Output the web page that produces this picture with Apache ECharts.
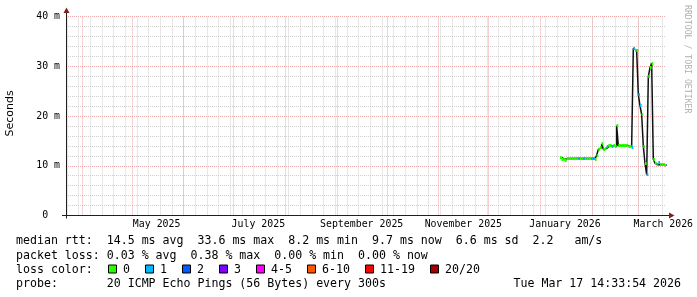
<!DOCTYPE html>
<html><head><meta charset="utf-8">
<script src="https://cdn.jsdelivr.net/npm/echarts@6/dist/echarts.min.js"></script>
<style>html,body{margin:0;padding:0;background:#fff}#c{width:697px;height:297px}</style>
</head><body><div id="c"></div>
<script>
// ---------- data ----------
const endTime = '2026-03-17 14:33:54';
const rangeDays = 360;
const firstBinEnd = '2026-01-14';           // end of first daily bin
const medianMs = [
  11.6, 11.2, 11.3, 11.05, 11.4, 11.45, 11.4, 11.45, 11.45, 11.4,
  11.45, 11.45, 11.4, 11.45, 11.45, 11.45, 11.4, 11.45, 11.45, 11.4,
  11.4, 11.2, 12.1, 13.3, 13.7, 14.4, 13.3, 13.5, 13.9, 14.0,
  14.0, 13.9, 14.0, 13.9, 18.1, 14.0, 14.0, 14.0, 14.1, 14.0,
  14.0, 13.9, 13.9, 13.6, 33.6, 33.2, 33.2, 24.3, 22.1, 20.3,
  13.9, 10.5, 8.2, 27.9, 29.7, 30.6, 11.3, 10.5, 10.2, 10.6,
  10.2, 10.2, 10.2, 10.1
];
const lossCount = [
  0, 0, 0, 0, 0, 0, 0, 0, 0, 0,
  0, 1, 0, 0, 1, 0, 0, 0, 0, 1,
  1, 0, 0, 0, 0, 0, 0, 0, 1, 0,
  0, 1, 0, 0, 0, 0, 0, 0, 0, 0,
  0, 0, 0, 1, 1, 0, 0, 1, 1, 0,
  0, 0, 1, 0, 0, 0, 0, 0, 1, 1,
  0, 0, 0, 0
];
const monthStarts = ['2025-04-01','2025-05-01','2025-06-01','2025-07-01','2025-08-01','2025-09-01',
  '2025-10-01','2025-11-01','2025-12-01','2026-01-01','2026-02-01','2026-03-01'];
const firstWeekLine = '2025-03-23';
const xLabelDates = ['2025-05-16','2025-07-16','2025-09-16','2025-11-16','2026-01-16','2026-03-16'];
const xLabelTexts = ['May 2025','July 2025','September 2025','November 2025','January 2026','March 2026'];
const yTicksMs = [0, 10, 20, 30, 40];
const yTickLabels = ['0', '10 m', '20 m', '30 m', '40 m'];
const yMinorStep = 2;
const rttLine = 'median rtt:  14.5 ms avg  33.6 ms max  8.2 ms min  9.7 ms now  6.6 ms sd  2.2   am/s';
const lossLine = 'packet loss: 0.03 % avg  0.38 % max  0.00 % min  0.00 % now';
const lossLabels = ['0', '1', '2', '3', '4-5', '6-10', '11-19', '20/20'];
const lossColors = ['#26ff00', '#00b8ff', '#0059ff', '#7e00ff', '#ff00ff', '#ff5500', '#ff0000', '#a00000'];
const probeLine = 'probe:       20 ICMP Echo Pings (56 Bytes) every 300s';
const stampText = 'Tue Mar 17 14:33:54 2026';
const yName = 'Seconds';
const watermark = 'RRDTOOL / TOBI OETIKER';

// ---------- helpers ----------
const DAY = 86400000;
function toMs(s) {
  const m = s.match(/(\d+)-(\d+)-(\d+)(?:[ T](\d+):(\d+):(\d+))?/);
  return new Date(+m[1], +m[2] - 1, +m[3], +(m[4] || 0), +(m[5] || 0), +(m[6] || 0)).getTime();
}
const tEnd = toMs(endTime);
const tStart = tEnd - rangeDays * DAY;
const fbd = new Date(toMs(firstBinEnd));
function binEnd(i) { return new Date(fbd.getFullYear(), fbd.getMonth(), fbd.getDate() + i).getTime(); }

const lineData = medianMs.map((v, i) => [binEnd(i), v]);
const bandData = medianMs.map((v, i) => [binEnd(i), v, lossCount[i]]);

const majorX = monthStarts.map(toMs);
const minorX = [];
{
  const w = new Date(toMs(firstWeekLine));
  for (let k = 0; ; k++) {
    const t = new Date(w.getFullYear(), w.getMonth(), w.getDate() + 7 * k).getTime();
    if (t > tEnd) break;
    if (t > tStart) minorX.push(t);
  }
}
const labelMs = xLabelDates.map(toMs);
const labelMap = {};
labelMs.forEach((t, i) => { labelMap[t] = xLabelTexts[i]; });

function lossColorOf(n) {
  if (n <= 0) return lossColors[0];
  if (n === 1) return lossColors[1];
  if (n === 2) return lossColors[2];
  if (n === 3) return lossColors[3];
  if (n <= 5) return lossColors[4];
  if (n <= 10) return lossColors[5];
  if (n <= 19) return lossColors[6];
  return lossColors[7];
}

const MONO = '"DejaVu Sans Mono", monospace';
const GRID_C = '#cfcfcf';
const MGRID_C = '#f0a8a8';
const ARROW_C = '#801f1f';
const AXIS_C = '#1f1f1f';

const G = { left: 66, top: 16.5, width: 600, height: 199 };

function vGridSeries(times, color, z) {
  return {
    type: 'custom', xAxisIndex: 0, yAxisIndex: 1, z: z, silent: true,
    data: times.map(t => [t, 0]),
    renderItem: function (params, api) {
      const p = api.coord([api.value(0), 0]);
      const cs = params.coordSys;
      const x = Math.round(p[0]) + 0.5;
      return { type: 'line', shape: { x1: x, y1: cs.y + cs.height, x2: x, y2: cs.y },
        style: { stroke: color, lineWidth: 1, lineDash: [1, 1] } };
    }
  };
}

// ---------- graphics (text & decorations) ----------
const graphics = [];
const CW = 7.0;
graphics.push({ type: 'text', x: 10.5, y: 113.5, rotation: Math.PI / 2, z: 20,
  style: { text: yName, x: 0, y: 0, align: 'center', verticalAlign: 'middle', font: '11px "DejaVu Sans"', fill: '#000' } });
graphics.push({ type: 'text', x: 687.5, y: 5, rotation: -Math.PI / 2, z: 20,
  style: { text: watermark, x: 0, y: 0, align: 'left', verticalAlign: 'middle', font: '8.2px ' + MONO, fill: '#b0b0b0' } });
graphics.push({ type: 'line', z: 30, shape: { x1: 66.5, y1: 218.5, x2: 66.5, y2: 12 }, style: { stroke: AXIS_C, lineWidth: 1 } });
graphics.push({ type: 'line', z: 30, shape: { x1: 62, y1: 215.5, x2: 670, y2: 215.5 }, style: { stroke: AXIS_C, lineWidth: 1 } });
graphics.push({ type: 'polygon', z: 31, shape: { points: [[66.5, 7.5], [63.5, 13], [69.5, 13]] }, style: { fill: ARROW_C } });
graphics.push({ type: 'polygon', z: 31, shape: { points: [[674.5, 215.5], [669, 212.5], [669, 218.5]] }, style: { fill: ARROW_C } });
const rowY = [241, 255.5, 269.5, 284];
const LF = '11.6px ' + MONO;
graphics.push({ type: 'text', x: 16, y: rowY[0], style: { text: rttLine, font: LF, fill: '#000', verticalAlign: 'middle' } });
graphics.push({ type: 'text', x: 16, y: rowY[1], style: { text: lossLine, font: LF, fill: '#000', verticalAlign: 'middle' } });
graphics.push({ type: 'text', x: 16, y: rowY[2], style: { text: 'loss color:', font: LF, fill: '#000', verticalAlign: 'middle' } });
{
  let x = 108;
  lossLabels.forEach((lab, i) => {
    graphics.push({ type: 'rect', shape: { x: x + 0.5, y: rowY[2] - 4.5, width: 8, height: 8 },
      style: { fill: lossColors[i], stroke: '#000', lineWidth: 1 } });
    graphics.push({ type: 'text', x: x + 15, y: rowY[2], style: { text: lab, font: LF, fill: '#000', verticalAlign: 'middle' } });
    x += 30 + lab.length * CW;
  });
}
graphics.push({ type: 'text', x: 16, y: rowY[3], style: { text: probeLine, font: LF, fill: '#000', verticalAlign: 'middle' } });
graphics.push({ type: 'text', x: 681, y: rowY[3], style: { text: stampText, font: LF, fill: '#000', verticalAlign: 'middle', align: 'right' } });

// ---------- chart ----------
const chart = echarts.init(document.getElementById('c'), null, { renderer: 'canvas' });
chart.setOption({
  animation: false,
  backgroundColor: '#ffffff',
  grid: G,
  xAxis: [
    {
      type: 'value', min: tStart, max: tEnd, position: 'bottom', z: 2, scale: true,
      axisLine: { show: false },
      axisTick: { show: false, customValues: labelMs },
      splitLine: { show: false },
      axisLabel: {
        customValues: labelMs, margin: 4,
        formatter: v => labelMap[v] || '',
        fontFamily: MONO, fontSize: 9.9, color: '#000',
        showMinLabel: true, showMaxLabel: true
      }
    }
  ],
  yAxis: [
    {
      type: 'value', min: 0, max: 40, interval: yMinorStep, position: 'left', z: 0,
      axisLine: { show: false }, axisTick: { show: false }, axisLabel: { show: false },
      splitLine: { show: true, lineStyle: { color: GRID_C, width: 1, type: [1, 1] } }
    },
    {
      type: 'value', min: 0, max: 40, interval: 10, position: 'left', z: 1,
      axisLine: { show: false }, axisTick: { show: false },
      axisLabel: {
        margin: 6, fontFamily: MONO, fontSize: 9.9, color: '#000',
        formatter: v => {
          const i = yTicksMs.indexOf(v);
          if (i < 0) return '';
          const s = yTickLabels[i];
          return s.length < 3 ? s + '\u00a0'.repeat(3 - s.length) : s;
        }
      },
      splitLine: { show: true, lineStyle: { color: MGRID_C, width: 1, type: [1, 1] } }
    }
  ],
  series: [
    vGridSeries(minorX, GRID_C, 1),
    vGridSeries(majorX, MGRID_C, 2),
    {
      type: 'line', xAxisIndex: 0, yAxisIndex: 1, step: 'start', z: 3,
      data: lineData, symbol: 'none', silent: true,
      lineStyle: { color: '#111111', width: 1.5 }
    },
    {
      type: 'custom', xAxisIndex: 0, yAxisIndex: 1, z: 4, silent: true,
      data: bandData,
      renderItem: function (params, api) {
        const t = api.value(0), v = api.value(1), loss = api.value(2);
        const p0 = api.coord([t - DAY, v]);
        const p1 = api.coord([t, v]);
        const cs = params.coordSys;
        const yy = Math.round(p0[1] - 1.5);
        const shape = echarts.graphic.clipRectByRect(
          { x: p0[0], y: yy, width: p1[0] - p0[0], height: 3 },
          { x: cs.x, y: cs.y, width: cs.width, height: cs.height });
        if (!shape) return null;
        return { type: 'rect', shape: shape, style: { fill: lossColorOf(loss) } };
      }
    }
  ],
  graphic: graphics
});
</script>
</body></html>
